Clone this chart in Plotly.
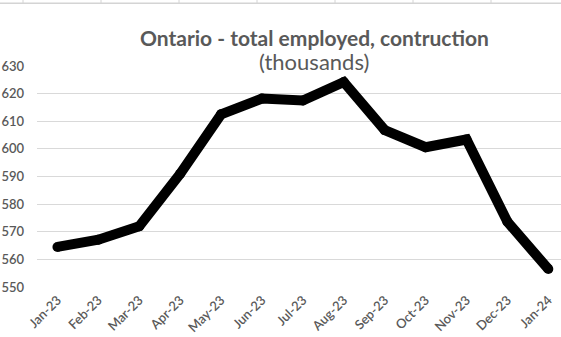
import plotly.graph_objects as go

months = ["Jan-23", "Feb-23", "Mar-23", "Apr-23", "May-23", "Jun-23", "Jul-23",
          "Aug-23", "Sep-23", "Oct-23", "Nov-23", "Dec-23", "Jan-24"]
employed = [564.5, 567.1, 572.0, 591.0, 612.5, 618.2, 617.5,
            624.2, 606.8, 600.6, 603.4, 573.6, 556.5]
y_ticks = [550, 560, 570, 580, 590, 600, 610, 620, 630]
title_text = "Ontario - total employed, contruction"
subtitle_text = "(thousands)"

W, H = 561, 337
ML, MR, MT, MB = 37, 0, 66, 50
PW = W - ML - MR
PH = H - MT - MB

def px_x(px):
    return (px - ML) / PW

def px_y(py):
    return (H - MB - py) / PH

gray = "#595959"
fnt = "Lato"

fig = go.Figure()
fig.add_trace(go.Scatter(
    x=list(range(len(months))), y=employed, mode="lines+markers",
    line=dict(color="black", width=10),
    marker=dict(color="black", size=10, line=dict(width=0)),
    hoverinfo="skip", showlegend=False,
))

shapes = [dict(type="line", xref="paper", yref="paper",
               x0=px_x(0), x1=px_x(W), y0=px_y(3.3), y1=px_y(3.3),
               line=dict(color="#d4d4d4", width=1.5))]
for tx in [23, 101, 179, 257, 335, 413, 491]:
    shapes.append(dict(type="line", xref="paper", yref="paper",
                       x0=px_x(tx), x1=px_x(tx), y0=px_y(0), y1=px_y(3.3),
                       line=dict(color="#d4d4d4", width=1)))

fig.update_layout(
    width=W, height=H,
    margin=dict(l=ML, r=MR, t=MT, b=MB, pad=0),
    paper_bgcolor="white", plot_bgcolor="white",
    font=dict(family=fnt, color=gray),
    xaxis=dict(
        range=[-0.5, 12.31], tickmode="array",
        tickvals=list(range(len(months))), ticktext=months,
        tickangle=-45, showgrid=False, zeroline=False, showline=False,
        ticks="", ticklabelstandoff=2,
        tickfont=dict(family=fnt, size=13, color=gray, weight=600),
        fixedrange=True,
    ),
    yaxis=dict(
        range=[550, 630], tickmode="array", tickvals=y_ticks,
        ticktext=[str(v) for v in y_ticks],
        showgrid=True, gridcolor="#d9d9d9", gridwidth=1,
        zeroline=False, showline=False, ticks="",
        ticklabelstandoff=12,
        tickfont=dict(family=fnt, size=13, color=gray, weight=600),
        fixedrange=True,
    ),
    shapes=shapes,
    annotations=[
        dict(text="<b>" + title_text + "</b>", xref="paper", yref="paper",
             x=px_x(314), y=px_y(37), xanchor="center", yanchor="middle",
             showarrow=False, font=dict(family=fnt, size=21, color=gray)),
        dict(text=subtitle_text, xref="paper", yref="paper",
             x=px_x(314), y=px_y(61), xanchor="center", yanchor="middle",
             showarrow=False, font=dict(family=fnt, size=22, color=gray)),
    ],
)

fig.write_html("out.html")
